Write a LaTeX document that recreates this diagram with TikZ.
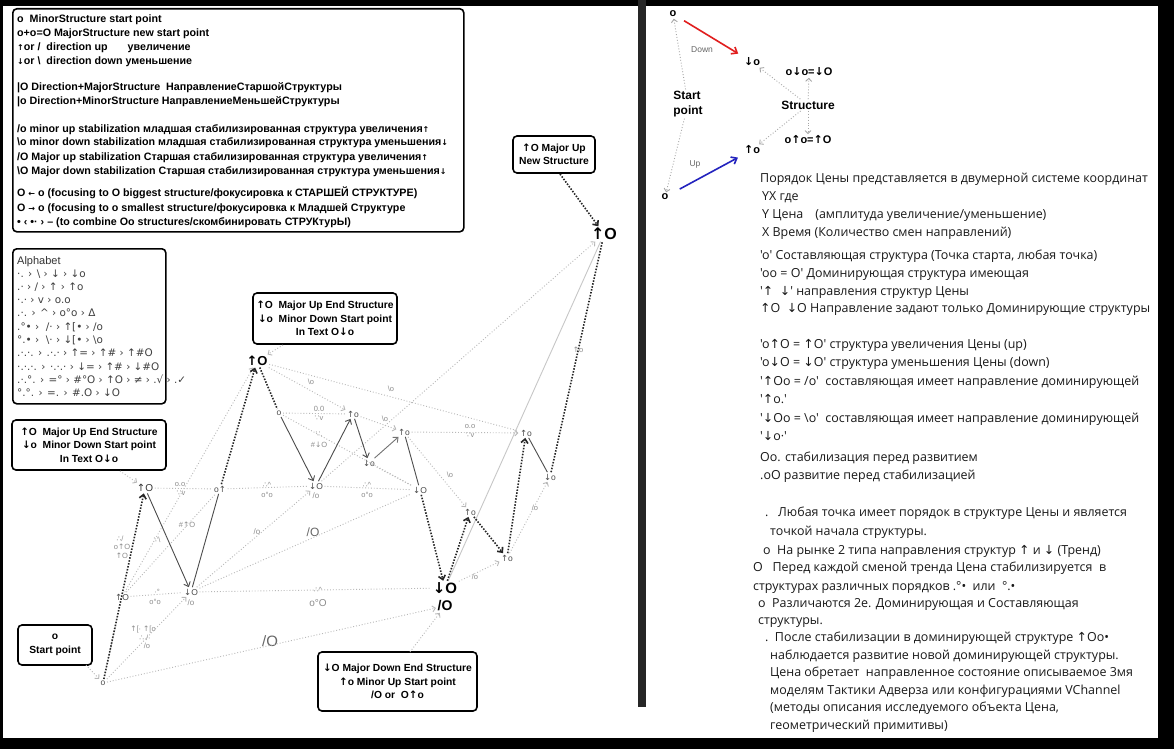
\documentclass[tikz,border=0pt]{standalone}
\usepackage{fontspec}
\setmainfont{Liberation Sans}
\newfontfamily\rf{Open Sans}
\newfontfamily\sym{DejaVu Sans}
\usetikzlibrary{arrows.meta}
\newcommand{\myua}{{\sym ↑}}
\newcommand{\myda}{{\sym ↓}}
\newcommand{\mybs}{\textbackslash}
\newcommand{\myfs}[1]{\fontsize{#1}{#1}\selectfont}
\definecolor{myred}{RGB}{225,30,30}
\definecolor{myblue}{RGB}{35,35,190}
\tikzset{
  leg/.style={anchor=base west, inner sep=0pt, font=\myfs{10.7}\bfseries, text=black},
  rt/.style={anchor=base west, inner sep=0pt, font=\rf\myfs{12.45}, text=black!90},
  alph/.style={anchor=base west, inner sep=0pt, font=\sym\myfs{10.4}, text=black!75},
  rbox/.style={draw=black, line width=1.6pt, rounded corners=4pt, fill=white, inner sep=0pt},
  btxt/.style={font=\fontsize{10.3}{13.5}\selectfont\bfseries, align=center},
  gn/.style={font=\myfs{8.5}, text=black!70, inner sep=1.5pt},
  gl/.style={font=\myfs{7.5}, text=black!45, inner sep=0pt},
  rb/.style={font=\myfs{11}\bfseries, text=black, inner sep=1.5pt},
  lite/.style={draw=black!28, line width=0.9pt, dotted},
  liteA/.style={lite, -{Straight Barb[length=3pt,width=6pt]}},
  litesol/.style={draw=black!22, line width=0.9pt},
  dark/.style={draw=black!85, line width=1.6pt, dash pattern=on 1.5pt off 1.5pt},
  darkA/.style={dark, -{Straight Barb[length=4pt,width=7pt]}},
  sol/.style={draw=black!70, line width=0.9pt},
  solA/.style={sol, -{Straight Barb[length=4pt,width=7pt]}},
  redA/.style={draw=myred, line width=1.6pt, -{Straight Barb[length=5pt,width=8pt]}, shorten <=7pt, shorten >=5pt},
  blueA/.style={draw=myblue, line width=1.6pt, -{Straight Barb[length=5pt,width=8pt]}, shorten <=11pt, shorten >=5pt},
}
\begin{document}
\begin{tikzpicture}[x=1pt,y=-1pt]
\useasboundingbox (0,0) rectangle (1174,749);
\fill[black] (0,0) rectangle (1174,749);
\fill[white] (3,6) rectangle (1158,738);
\fill[black!85] (638,0) rectangle (646,707);

% ---------- legend box ----------
\node[rbox, anchor=north west, minimum width=451pt, minimum height=223pt] (legbox) at (12,8) {};
\node[leg] (l1) at (17,23) {o\ \ MinorStructure start point};
\node[leg] (l2) at (17,37) {o+o=O MajorStructure new start point};
\node[leg] (l3) at (17,51) {{\sym\myfs{8}↑}or /\ \ direction up\hspace{20pt}увеличение};
\node[leg] (l4) at (17,65) {{\sym\myfs{8}↓}or \mybs\ \ direction down уменьшение};
\node[leg] (l5) at (17,91) {|O Direction+MajorStructure\ \ НаправлениеСтаршойСтруктуры};
\node[leg] (l6) at (17,105) {|o Direction+MinorStructure НаправлениеМеньшейСтруктуры};
\node[leg] (l7) at (17,132) {/o minor up stabilization младшая стабилизированная структура увеличения{\sym\myfs{8}↑}};
\node[leg] (l8) at (17,146) {\mybs o minor down stabilization младшая стабилизированная структура уменьшения{\sym\myfs{8}↓}};
\node[leg] (l9) at (17,160) {/O Major up stabilization Старшая стабилизированная структура увеличения{\sym\myfs{8}↑}};
\node[leg] (l10) at (17,174) {\mybs O Major down stabilization Старшая стабилизированная структура уменьшения{\sym\myfs{8}↓}};
\node[leg] (l11) at (17,196) {O {\sym\myfs{8}←} o (focusing to O biggest structure/фокусировка к СТАРШЕЙ СТРУКТУРЕ)};
\node[leg] (l12) at (17,211) {O {\sym\myfs{8}→} o (focusing to o smallest structure/фокусировка к Младшей Структуре};
\node[leg] (l13) at (17,225) {• ‹ •· › – (to combine Oo structures/скомбинировать СТРУКтурЫ)};

% ---------- alphabet box ----------
\node[rbox, anchor=north west, minimum width=153pt, minimum height=155pt] (alphbox) at (12,248) {};
\node[anchor=base west, inner sep=0pt, font=\myfs{11}, text=black!80] (al0) at (17,264) {Alphabet};
\node[alph] (al1) at (17,277) {·. › \mybs\ › ↓ › ↓o};
\node[alph] (al2) at (17,290) {.· › / › ↑ › ↑o};
\node[alph] (al3) at (17,303) {·.· › v › o.o};
\node[alph] (al4) at (17,316) {.·. › \textasciicircum\ › o°o › Δ};
\node[alph] (al5) at (17,330) {.°• › \ /· › ↑[• › /o};
\node[alph] (al6) at (17,343) {°.• › \ \mybs· › ↓[• › \mybs o};
\node[alph] (al7) at (17,356) {.·.·. › .·.· › ↑= › ↑\# › ↑\#O};
\node[alph] (al8) at (17,370) {·.·.·. › ·.·.· › ↓= › ↑\# › ↓\#O};
\node[alph] (al9) at (17,383) {.·.°. › =° › \#°O › ↑O › ≠ › .√ › .✓};
\node[alph] (al10) at (17,396) {°.°. › =. › \#.O › ↓O};

% ---------- annotation boxes ----------
\node[rbox, btxt, minimum width=154pt, minimum height=50pt] (boxL) at (89,445)
  {\myua O\ \ Major Up End Structure\\ \myda o\ \ Minor Down Start point\\ In Text O\myda o};
\node[rbox, btxt, minimum width=144pt, minimum height=51pt] (boxM) at (325,318.5)
  {\myua O\ \ Major Up End Structure\\ \myda o\ \ Minor Down Start point\\ In Text O\myda o};
\node[rbox, btxt, minimum width=74pt, minimum height=40pt] (boxS) at (55,645) {o\\Start point};
\node[rbox, btxt, minimum width=159pt, minimum height=59pt] (boxB) at (397.5,681.5)
  {\myda O Major Down End Structure\\ \myua o Minor Up Start point\\ /O or\ \ O\myua o};
\node[rbox, btxt, minimum width=82pt, minimum height=37pt] (boxT) at (554,154.5) {\myua O Major Up\\New Structure};

% ---------- graph nodes ----------
\node[gn] (s0) at (103,683) {o};
\node[gn, font=\myfs{10}, text=black!80] (a1) at (145,488) {\myua O};
\node[gn] (a0) at (122,597) {\myua O};
\node[gn] (b1) at (191,592) {\myda O};
\node[gl, font=\myfs{8}] (b1l) at (191,603) {/o};
\node[gn] (c1) at (220,489) {o\myua};
\node[gn, font=\myfs{13}\bfseries, text=black] (d1) at (257,361) {\myua O};
\node[gn] (e1) at (279,413) {o};
\node[gn] (f1) at (316,486) {\myda O};
\node[gl, font=\myfs{8}] (f1l) at (316,496) {/o};
\node[gn] (g1) at (353,414) {\myua o};
\node[gn] (h1) at (369,463) {\myda o};
\node[gn] (i1) at (404,432) {\myua o};
\node[gn] (j1) at (420,490) {\myda O};
\node[gn] (k1) at (470,512) {\myua o};
\node[gn, font=\myfs{15}\bfseries, text=black] (L) at (445,588) {\myda O};
\node[gn, font=\myfs{14}\bfseries, text=black] (M) at (445,606) {/O};
\node[gn] (n1) at (507,558) {\myua o};
\node[gn] (p1) at (526,433) {\myua o};
\node[gn] (q1) at (550,477) {\myda o};
\node[gn, font=\myfs{16}\bfseries, text=black] (T) at (604,234) {\myua O};

% ---------- graph labels ----------
\node[gl] (g01) at (180,485) {o.o};
\node[gl] (g02) at (181,493) {{\sym ∵}v};
\node[gl] (g03) at (267,485) {{\sym ∴}\textasciicircum};
\node[gl] (g04) at (267,495) {o°o};
\node[gl] (g05) at (367,485) {{\sym ∴}\textasciicircum};
\node[gl] (g06) at (367,495) {o°o};
\node[gl] (g07) at (157,592) {·°};
\node[gl] (g08) at (155,602) {o°o};
\node[gl] (g09) at (318,590) {{\sym ∴}\textasciicircum};
\node[gl, font=\myfs{10}] (g10) at (318,603) {o°O};
\node[gl] (g11) at (319,409) {0.0};
\node[gl] (g12) at (319,418) {{\sym ∵}v};
\node[gl] (g13) at (319,434) {{\sym ∵}.};
\node[gl] (g14) at (319,445) {\#\myda O};
\node[gl] (g15) at (470,427) {o.o};
\node[gl] (g16) at (470,435) {{\sym ∵}v};
\node[gl] (g17) at (311,382) {\mybs o};
\node[gl] (g18) at (391,389) {\mybs o};
\node[gl] (g19) at (385,419) {\mybs o};
\node[gl] (g20) at (450,475) {\mybs o};
\node[gl, font=\myfs{8}] (g21) at (257,532) {/o};
\node[gl, font=\myfs{12}, text=black!60] (g22) at (313,532) {/O};
\node[gl, font=\myfs{15}, text=black!60] (g23) at (270,641) {/O};
\node[gl] (g24) at (475,577) {/o};
\node[gl] (g25) at (535,508) {/o};
\node[gl] (g26) at (187,525) {\#\myua O};
\node[gl] (g27) at (157,540) {{\sym ∵}\mybs};
\node[gl] (g28) at (120,539) {{\sym ∴}/};
\node[gl] (g29) at (122,547) {o\myua O};
\node[gl] (g30) at (122,556) {\myua O};
\node[gl] (g31) at (143,630) {\myua[·\ \myua[o};
\node[gl] (g32) at (145,638) {{\sym ∴} /·};
\node[gl] (g33) at (147,646) {/o};
\node[gl] (g34) at (578,350) {\myua o};

% ---------- connectors: light ----------
\coordinate (bLs) at (120,471);
\coordinate (bMs) at (283,345);
\coordinate (bSs) at (86,665);
\coordinate (bBs) at (410,652);
\coordinate (bTs) at (560,174);
\draw[liteA] (bLs) -- (a1);
\draw[liteA] (bMs) -- (d1);
\draw[liteA] (bSs) -- (s0);
\draw[liteA] (bBs) -- (M);
\draw[lite] (s0) -- (a0);
\draw[liteA] (s0) -- (b1);
\draw[liteA] (s0) -- (M);
\draw[lite] (a0) -- (b1);
\draw[lite] (a0) -- (c1);
\draw[liteA] (a0) -- (d1);
\draw[lite] (a1) -- (c1);
\draw[lite] (c1) -- (f1);
\draw[liteA] (b1) -- (f1);
\draw[lite] (b1) -- (L);
\draw[lite] (b1) -- (j1);
\draw[lite] (f1) -- (j1);
\draw[liteA] (f1) -- (T);
\draw[liteA] (d1) -- (g1);
\draw[lite] (d1) -- (p1);
\draw[lite] (e1) -- (g1);
\draw[lite] (e1) -- (j1);
\draw[liteA] (g1) -- (i1);
\draw[lite] (h1) -- (j1);
\draw[liteA] (i1) -- (k1);
\draw[liteA] (i1) -- (p1);
\draw[liteA] (L) -- (n1);
\draw[liteA] (n1) -- (q1);
\draw[litesol] (L) -- (T);

% ---------- connectors: dark dotted ----------
\draw[darkA] (s0) -- (a1);
\draw[darkA] (c1) -- (d1);
\draw[dark] (d1) -- (e1);
\draw[darkA] (j1) -- (L);
\draw[darkA] (L) -- (k1);
\draw[darkA] (k1) -- (n1);
\draw[darkA] (n1) -- (p1);
\draw[dark] (q1) -- (T);
\draw[darkA] (bTs) -- (T);

% ---------- connectors: solid ----------
\draw[solA] (a1) -- (b1);
\draw[sol] (b1) -- (c1);
\draw[solA] (e1) -- (f1);
\draw[solA] (f1) -- (g1);
\draw[solA] (g1) -- (h1);
\draw[solA, draw=black!55] (h1) -- (i1);
\draw[sol] (i1) -- (j1);
\draw[sol] (p1) -- (q1);

% ---------- right top diagram ----------
\node[rb] (Ro1) at (673,14) {o};
\node[rb] (Rdo) at (752,62) {\myda o};
\node[rb] (Rs1) at (809,72) {o\myda o=\myda O};
\node[rb, font=\fontsize{12}{15}\selectfont\bfseries, align=left] (Rsp) at (688,104) {Start\\point};
\node[rb, font=\myfs{12}\bfseries] (Rst) at (808,105) {Structure};
\node[rb] (Rs2) at (808,140) {o\myua o=\myua O};
\node[rb] (Ruo) at (752,150) {\myua o};
\node[rb] (Ro2) at (665,197) {o};
\node[gl, font=\myfs{8.5}, text=black!60] (Rdn) at (702,50) {Down};
\node[gl, font=\myfs{8.5}, text=black!60] (Rup) at (695,164) {Up};
\draw[redA] (Ro1) -- (Rdo);
\draw[blueA] (Ro2) -- (Ruo);
\draw[liteA, draw=black!35] (Rsp) -- (Ro1);
\draw[liteA, draw=black!35] (Rsp) -- (Ro2);
\draw[liteA, draw=black!35] (Rst) -- (Rdo);
\draw[liteA, draw=black!35] (Rst) -- (Rs1);
\draw[liteA, draw=black!35] (Rst) -- (Rs2);
\draw[liteA, draw=black!35] (Rst) -- (Ruo);

% ---------- right text ----------
\node[rt] (r1) at (760,182) {Порядок Цены представляется в двумерной системе координат};
\node[rt] (r2) at (762,200) {YX где};
\node[rt] (r3) at (762,218) {Y Цена\hspace{12pt}(амплитуда увеличение/уменьшение)};
\node[rt] (r4) at (762,236) {X Время (Количество смен направлений)};
\node[rt] (r5) at (760,259) {'o' Составляющая структура (Точка старта, любая точка)};
\node[rt] (r6) at (760,277) {'oo = O' Доминирующая структура имеющая};
\node[rt] (r7) at (760,295) {'\myua\ \ \myda' направления структур Цены};
\node[rt] (r8) at (760,312) {\myua O\ \ \myda O Направление задают только Доминирующие структуры};
\node[rt] (r9) at (760,348) {'o\myua O = \myua O' структура увеличения Цены (up)};
\node[rt] (r10) at (760,366) {'o\myda O = \myda O' структура уменьшения Цены (down)};
\node[rt] (r11) at (760,385) {'\myua Oo = /o'\ \ составляющая имеет направление доминирующей};
\node[rt] (r12) at (760,403) {'\myua o.'};
\node[rt] (r13) at (760,422) {'\myda Oo = \mybs o'\ \ составляющая имеет направление доминирующей};
\node[rt] (r14) at (760,440) {'\myda o·'};
\node[rt] (r15) at (760,461) {Oo. стабилизация перед развитием};
\node[rt] (r16) at (760,479) {.oO развитие перед стабилизацией};
\node[rt] (r17) at (765,516) {.\ \ \ Любая точка имеет порядок в структуре Цены и является};
\node[rt] (r18) at (770,535) {точкой начала структуры.};
\node[rt] (r19) at (763,554) {o\ \ На рынке 2 типа направления структур \myua\ и \myda\ (Тренд)};
\node[rt] (r20) at (753,571) {O\ \ \ Перед каждой сменой тренда Цена стабилизируется\ \ в};
\node[rt] (r21) at (753,590) {структурах различных порядков .°•\ \ или\ \ °.•};
\node[rt] (r22) at (758,607) {o\ \ Различаются 2е. Доминирующая и Составляющая};
\node[rt] (r23) at (758,624) {структуры.};
\node[rt] (r24) at (765,641) {.\ \ После стабилизации в доминирующей структуре \myua Oo•};
\node[rt] (r25) at (770,659) {наблюдается развитие новой доминирующей структуры.};
\node[rt] (r26) at (770,676) {Цена обретает\ \ направленное состояние описываемое 3мя};
\node[rt] (r27) at (770,694) {моделям Тактики Адверза или конфигурациями VChannel};
\node[rt] (r28) at (770,711) {(методы описания исследуемого объекта Цена,};
\node[rt] (r29) at (770,729) {геометрический примитивы)};
\end{tikzpicture}
\end{document}
